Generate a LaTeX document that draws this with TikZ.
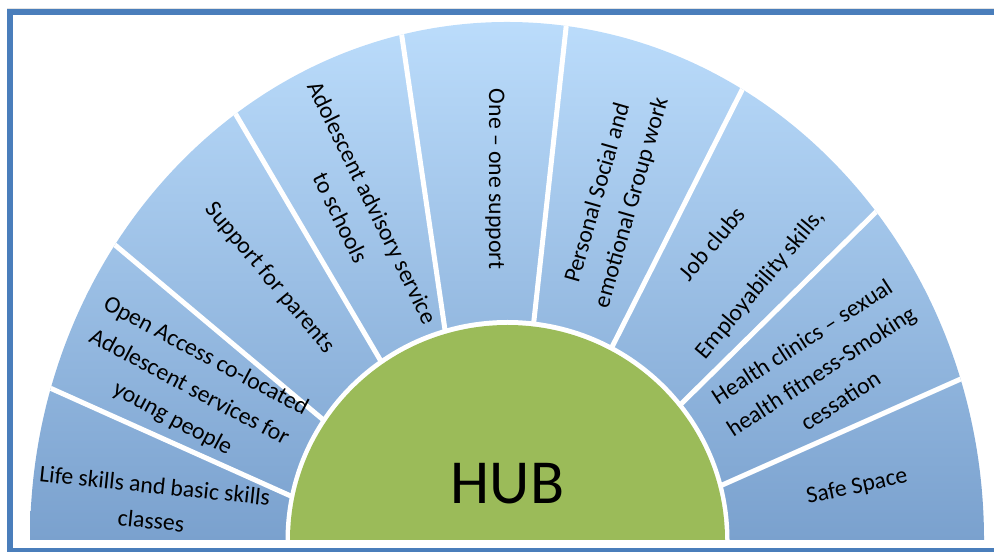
\documentclass[tikz,border=0pt]{standalone}
\usepackage{fontspec}
\setmainfont{Carlito}
\usetikzlibrary{calc}
\definecolor{frameblue}{RGB}{74,126,187}
\definecolor{fantop}{RGB}{187,220,251}
\definecolor{fanbot}{RGB}{122,161,206}
\definecolor{hubgreen}{RGB}{155,187,89}
\begin{document}
\begin{tikzpicture}[x=0.75pt,y=0.75pt,
  lbl/.style={font=\fontsize{17.8}{26.5}\selectfont, align=center, inner sep=0pt, text=black},
  sep/.style={white, line width=3.75pt}]
\useasboundingbox (0,0) rectangle (994,552);
\clip (0,0) rectangle (994,552);
% frame
\draw[gray!22, line width=0.9pt] (7,543.5) -- (994,543.5);
\draw[frameblue, line width=4.1pt] (1000,540) -- (10,540) -- (10,1.5) -- (1000,1.5);
% fan
\coordinate (C) at (507,12);
\coordinate (H) at (507.5,12);
\shade[top color=fantop, bottom color=fanbot] (30,12) arc[start angle=180,end angle=0,x radius=477,y radius=518] -- cycle;
% separator end points
\coordinate (o1) at (50,164);  \coordinate (i1) at (293,55);
\coordinate (o2) at (115,307); \coordinate (i2) at (327,129);
\coordinate (o3) at (235,439); \coordinate (i3) at (382,189);
\coordinate (o4) at (402,515); \coordinate (i4) at (445,222);
\coordinate (o5) at (566,524); \coordinate (i5) at (534,232);
\coordinate (o6) at (743,464); \coordinate (i6) at (612,205);
\coordinate (o7) at (878,342); \coordinate (i7) at (680,147);
\coordinate (o8) at (963,174); \coordinate (i8) at (720,66);
\begin{scope}
\clip (30,12) arc[start angle=180,end angle=0,x radius=477,y radius=518] -- cycle;
\foreach \k in {1,...,8}
  \draw[sep] ($(i\k)!-0.1!(o\k)$) -- ($(i\k)!1.15!(o\k)$);
\end{scope}
% hub
\fill[white] ($(H)+(-222,0)$) arc[start angle=180,end angle=0,x radius=222,y radius=220] -- cycle;
\fill[hubgreen] ($(H)+(-217.5,0)$) arc[start angle=180,end angle=0,x radius=217.5,y radius=215] -- cycle;
\node[font=\fontsize{47}{50}\selectfont, inner sep=0pt] (hub) at (507.5,68) {HUB};
% labels
\node[lbl, rotate=-6] (life) at (153,49) {Life skills and basic skills\\classes};
\node[lbl, rotate=-28] (open) at (189,164) {Open Access co-located\\Adolescent services for\\young people};
\node[lbl, rotate=-50] (parents) at (270,274) {Support for parents};
\node[lbl, rotate=-64] (advisory) at (356.5,342) {Adolescent advisory service\\to schools};
\node[lbl, rotate=-90] (one) at (495,373) {One – one support};
\node[lbl, rotate=74] (personal) at (615,354) {Personal Social and\\emotional Group work};
\node[lbl, rotate=50] (job) at (737,287.5) {Job clubs\\[20pt]Employability skills,};
\node[lbl, rotate=33] (health) at (821,181) {Health clinics – sexual\\health fitness-Smoking\\cessation};
\node[lbl, rotate=12] (safe) at (857,65) {Safe Space};
\end{tikzpicture}
\end{document}
